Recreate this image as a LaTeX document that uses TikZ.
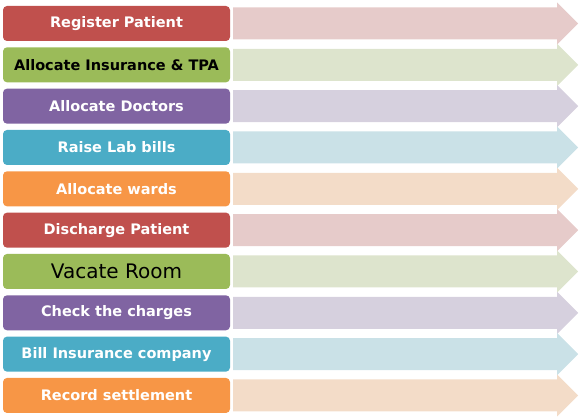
\documentclass[tikz,border=0pt]{standalone}
\usepackage{fontspec}
\setmainfont{DejaVu Sans}
\usetikzlibrary{calc,positioning}

\definecolor{stepred}{HTML}{C0504D}
\definecolor{stepgreen}{HTML}{9BBB59}
\definecolor{steppurple}{HTML}{8064A2}
\definecolor{stepteal}{HTML}{4BACC6}
\definecolor{steporange}{HTML}{F79646}

\tikzset{
	taskbox/.style={rectangle,rounded corners=4pt,minimum width=227pt,minimum height=35pt,inner sep=0pt},
	whitetext/.style={text=white,font=\bfseries\fontsize{14.5}{17}\selectfont},
	blacktext/.style={text=black,font=\bfseries\fontsize{14.5}{17}\selectfont},
	bigtext/.style={text=black,font=\fontsize{20}{24}\selectfont},
}

\begin{document}
\begin{tikzpicture}[x=1pt,y=-1pt]
	\useasboundingbox (0,0) rectangle (579,419);

	\foreach \i/\c/\s/\t in {1/stepred/whitetext/Register Patient,
		2/stepgreen/blacktext/Allocate Insurance \& TPA,
		3/steppurple/whitetext/Allocate Doctors,
		4/stepteal/whitetext/Raise Lab bills,
		5/steporange/whitetext/Allocate wards,
		6/stepred/whitetext/Discharge Patient,
		7/stepgreen/bigtext/Vacate Room,
		8/steppurple/whitetext/Check the charges,
		9/stepteal/whitetext/Bill Insurance company,
		10/steporange/whitetext/Record settlement}
	{
		\node[taskbox,fill=\c,\s] (box\i) at (116.5,{23.5+(\i-1)*41.33}) {\t};
		\coordinate (tail\i) at ($(box\i.east)+(3,0)$);
		\fill[\c!25!white!96!black] (tail\i) ++(0,-16) -- ++(324,0) -- ++(0,-5) -- ++(21,21)
			-- ++(-21,21) -- ++(0,-5) -- ++(-324,0) -- cycle;
	}
\end{tikzpicture}
\end{document}
